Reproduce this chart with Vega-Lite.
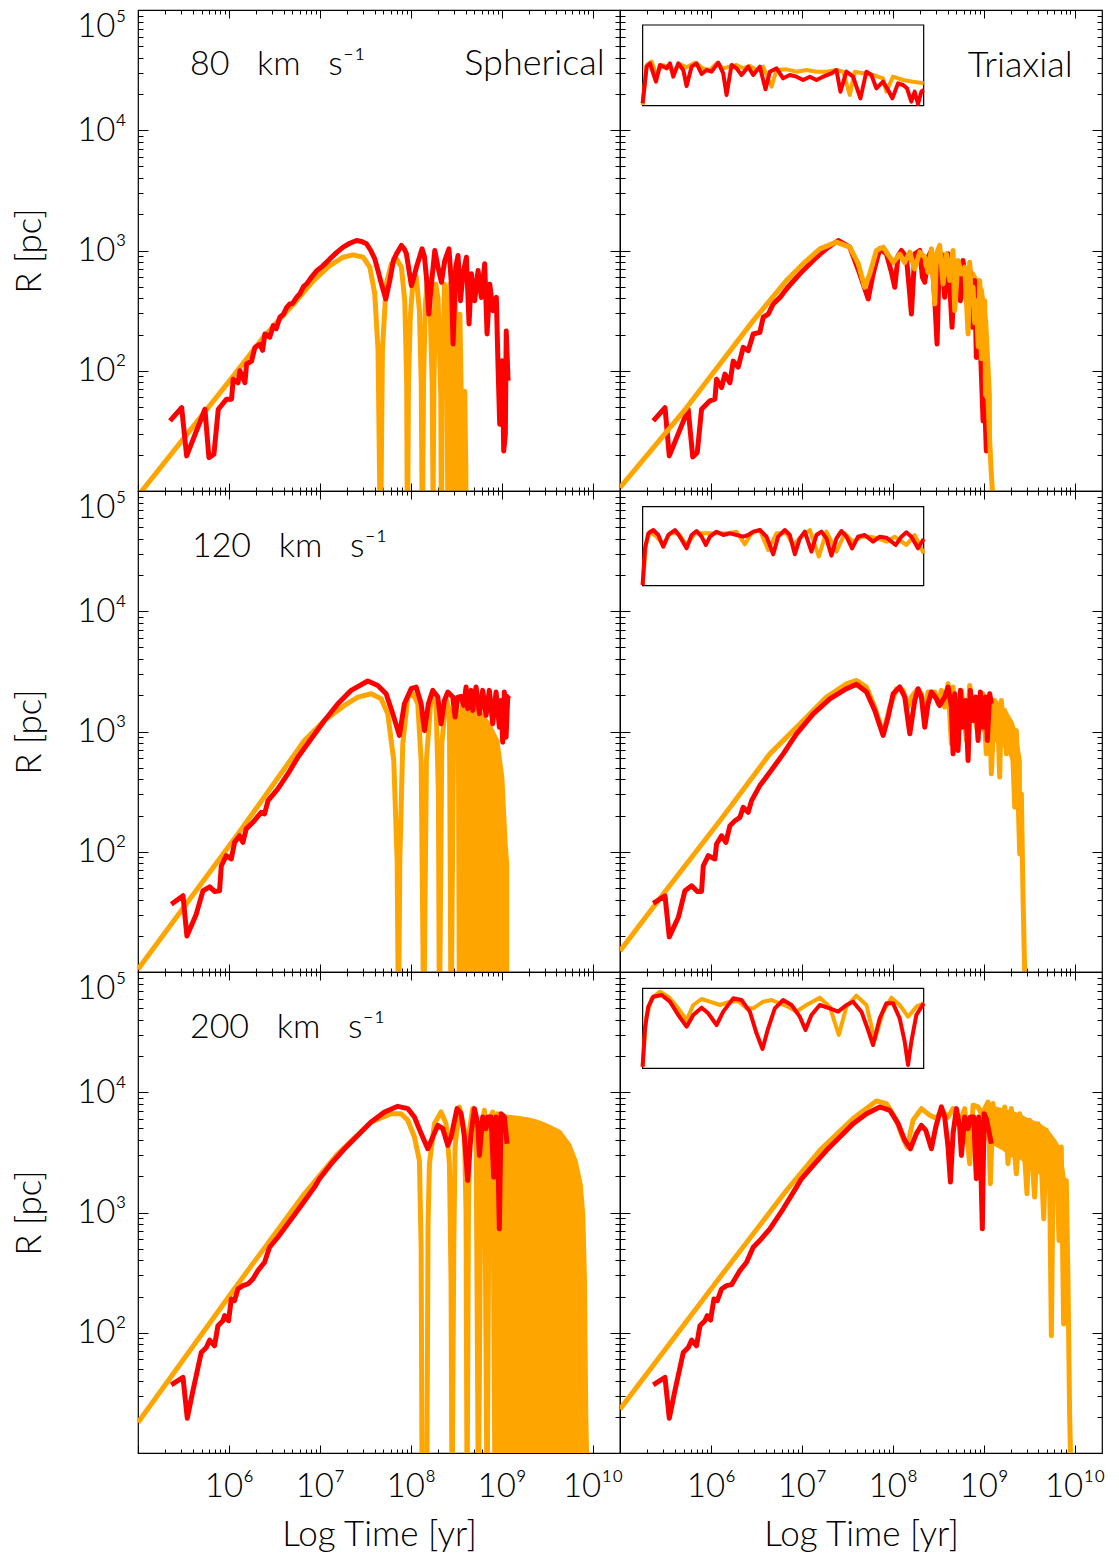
{
"$schema": "https://vega.github.io/schema/vega-lite/v6.json",
"padding": {"left": 11, "top": 8, "right": 0, "bottom": 0},
"background": "white",
"config": {
  "view": {"stroke": "black", "strokeWidth": 1.2},
  "axis": {"domain": false, "grid": false, "tickColor": "#000", "tickWidth": 1, "labelFont": "Lato", "labelFontSize": 33, "labelFontWeight": 300, "labelColor": "#000", "titleFont": "Lato", "titleFontSize": 35, "titleFontWeight": 300, "titleColor": "#000"},
  "text": {"font": "Lato", "fontSize": 34, "fontWeight": 300, "color": "#000"}
},
"datasets": {
  "A_o": [{"t":5.0,"r":0.96},{"t":6.01,"r":1.92},{"t":6.38,"r":2.28},{"t":6.74,"r":2.58},{"t":6.93,"r":2.75},{"t":7.11,"r":2.875},{"t":7.256,"r":2.944},{"t":7.366,"r":2.964},{"t":7.476,"r":2.944},{"t":7.55,"r":2.86},{"t":7.604,"r":2.64},{"t":7.64,"r":2.17},{"t":7.667,"r":0.5},{"t":7.688,"r":2.17},{"t":7.73,"r":2.72},{"t":7.787,"r":2.89},{"t":7.843,"r":2.93},{"t":7.897,"r":2.86},{"t":7.934,"r":2.58},{"t":7.955,"r":1.9},{"t":7.963,"r":0.5},{"t":7.975,"r":1.9},{"t":7.995,"r":2.45},{"t":8.025,"r":2.75},{"t":8.06,"r":2.78},{"t":8.095,"r":2.5},{"t":8.115,"r":1.9},{"t":8.128,"r":0.5},{"t":8.14,"r":1.9},{"t":8.16,"r":2.55},{"t":8.185,"r":2.76},{"t":8.21,"r":2.6},{"t":8.235,"r":1.9},{"t":8.245,"r":0.9},{"t":8.255,"r":1.9},{"t":8.275,"r":2.72},{"t":8.3,"r":2.6},{"t":8.33,"r":1.8},{"t":8.337,"r":0.5},{"t":8.345,"r":1.8},{"t":8.37,"r":2.72},{"t":8.395,"r":2.5},{"t":8.41,"r":0.5},{"t":8.418,"r":2.0},{"t":8.43,"r":2.72},{"t":8.447,"r":2.3},{"t":8.46,"r":0.5},{"t":8.47,"r":2.2},{"t":8.484,"r":2.69},{"t":8.5,"r":2.2},{"t":8.51,"r":0.5},{"t":8.52,"r":2.2},{"t":8.54,"r":2.47},{"t":8.555,"r":1.8},{"t":8.565,"r":0.5},{"t":8.575,"r":1.6},{"t":8.593,"r":1.83},{"t":8.605,"r":1.2},{"t":8.61,"r":0.5}],
  "A_r": [{"t":5.352,"r":1.583},{"t":5.48,"r":1.694},{"t":5.535,"r":1.292},{"t":5.736,"r":1.68},{"t":5.78,"r":1.278},{"t":5.835,"r":1.306},{"t":5.883,"r":1.68},{"t":5.974,"r":1.764},{"t":6.029,"r":1.764},{"t":6.047,"r":1.93},{"t":6.1,"r":1.9},{"t":6.12,"r":2.0},{"t":6.176,"r":1.9},{"t":6.194,"r":2.056},{"t":6.249,"r":2.08},{"t":6.286,"r":2.194},{"t":6.34,"r":2.22},{"t":6.37,"r":2.17},{"t":6.396,"r":2.306},{"t":6.45,"r":2.28},{"t":6.487,"r":2.375},{"t":6.52,"r":2.35},{"t":6.56,"r":2.445},{"t":6.6,"r":2.47},{"t":6.63,"r":2.52},{"t":6.67,"r":2.556},{"t":6.7,"r":2.56},{"t":6.744,"r":2.61},{"t":6.78,"r":2.64},{"t":6.82,"r":2.7},{"t":6.853,"r":2.72},{"t":6.9,"r":2.77},{"t":6.963,"r":2.83},{"t":7.03,"r":2.87},{"t":7.11,"r":2.93},{"t":7.18,"r":2.98},{"t":7.256,"r":3.028},{"t":7.33,"r":3.06},{"t":7.403,"r":3.083},{"t":7.46,"r":3.075},{"t":7.513,"r":3.056},{"t":7.56,"r":3.0},{"t":7.604,"r":2.93},{"t":7.64,"r":2.83},{"t":7.678,"r":2.72},{"t":7.725,"r":2.597},{"t":7.769,"r":2.75},{"t":7.81,"r":2.92},{"t":7.843,"r":2.972},{"t":7.897,"r":3.042},{"t":7.93,"r":3.01},{"t":7.952,"r":2.972},{"t":8.007,"r":2.708},{"t":8.035,"r":2.78},{"t":8.062,"r":2.86},{"t":8.124,"r":3.014},{"t":8.15,"r":2.95},{"t":8.172,"r":2.78},{"t":8.198,"r":2.472},{"t":8.227,"r":2.72},{"t":8.264,"r":3.0},{"t":8.3,"r":2.86},{"t":8.337,"r":2.736},{"t":8.374,"r":2.917},{"t":8.42,"r":3.014},{"t":8.447,"r":2.72},{"t":8.465,"r":2.222},{"t":8.494,"r":2.86},{"t":8.52,"r":2.958},{"t":8.546,"r":2.583},{"t":8.575,"r":2.806},{"t":8.612,"r":2.944},{"t":8.641,"r":2.389},{"t":8.667,"r":2.806},{"t":8.703,"r":2.583},{"t":8.74,"r":2.833},{"t":8.776,"r":2.61},{"t":8.813,"r":2.89},{"t":8.839,"r":2.306},{"t":8.868,"r":2.72},{"t":8.905,"r":2.5},{"t":8.941,"r":2.61},{"t":8.96,"r":2.03},{"t":8.978,"r":1.556},{"t":9.007,"r":2.083},{"t":9.022,"r":1.333},{"t":9.04,"r":1.47},{"t":9.05,"r":2.33},{"t":9.07,"r":1.917}],
  "B_o": [{"t":5.0,"r":1.028},{"t":5.733,"r":1.694},{"t":6.465,"r":2.417},{"t":6.83,"r":2.75},{"t":7.015,"r":2.89},{"t":7.198,"r":3.014},{"t":7.38,"r":3.07},{"t":7.527,"r":3.028},{"t":7.62,"r":2.89},{"t":7.692,"r":2.694},{"t":7.747,"r":2.806},{"t":7.82,"r":3.0},{"t":7.894,"r":3.028},{"t":7.967,"r":2.944},{"t":8.004,"r":2.9},{"t":8.077,"r":2.97},{"t":8.13,"r":2.9},{"t":8.187,"r":2.986},{"t":8.24,"r":2.847},{"t":8.297,"r":2.986},{"t":8.352,"r":2.944},{"t":8.388,"r":2.82},{"t":8.425,"r":3.014},{"t":8.462,"r":2.556},{"t":8.48,"r":2.972},{"t":8.516,"r":3.042},{"t":8.553,"r":2.722},{"t":8.59,"r":2.972},{"t":8.626,"r":2.75},{"t":8.663,"r":3.0},{"t":8.681,"r":2.5},{"t":8.718,"r":2.917},{"t":8.755,"r":2.806},{"t":8.791,"r":2.861},{"t":8.828,"r":2.306},{"t":8.846,"r":2.903},{"t":8.865,"r":2.55},{"t":8.883,"r":2.694},{"t":8.9,"r":2.4},{"t":8.919,"r":2.583},{"t":8.94,"r":2.2},{"t":8.956,"r":2.75},{"t":8.975,"r":2.1},{"t":8.993,"r":2.306},{"t":9.011,"r":2.583},{"t":9.02,"r":1.8},{"t":9.029,"r":2.083},{"t":9.048,"r":1.75},{"t":9.066,"r":1.417},{"t":9.084,"r":1.139},{"t":9.103,"r":0.917}],
  "B_b": [{"t":8.45,"r":2.98,"r2":2.82},{"t":8.6,"r":2.98,"r2":2.72},{"t":8.75,"r":2.9,"r2":2.62},{"t":8.9,"r":2.82,"r2":2.5},{"t":9.0,"r":2.68,"r2":2.2},{"t":9.05,"r":2.4,"r2":1.8},{"t":9.09,"r":1.8,"r2":1.2}],
  "B_r": [{"t":5.366,"r":1.583},{"t":5.495,"r":1.694},{"t":5.542,"r":1.292},{"t":5.75,"r":1.68},{"t":5.8,"r":1.283},{"t":5.85,"r":1.32},{"t":5.897,"r":1.68},{"t":5.989,"r":1.75},{"t":6.044,"r":1.764},{"t":6.062,"r":1.93},{"t":6.117,"r":1.86},{"t":6.154,"r":1.972},{"t":6.209,"r":1.9},{"t":6.245,"r":2.08},{"t":6.3,"r":2.03},{"t":6.355,"r":2.194},{"t":6.41,"r":2.167},{"t":6.465,"r":2.306},{"t":6.538,"r":2.319},{"t":6.575,"r":2.445},{"t":6.63,"r":2.47},{"t":6.685,"r":2.556},{"t":6.76,"r":2.61},{"t":6.83,"r":2.68},{"t":6.9,"r":2.74},{"t":6.978,"r":2.806},{"t":7.05,"r":2.86},{"t":7.125,"r":2.917},{"t":7.2,"r":2.97},{"t":7.27,"r":3.014},{"t":7.4,"r":3.083},{"t":7.527,"r":3.028},{"t":7.637,"r":2.806},{"t":7.73,"r":2.597},{"t":7.784,"r":2.806},{"t":7.857,"r":3.014},{"t":7.93,"r":2.972},{"t":7.985,"r":2.82},{"t":8.022,"r":2.694},{"t":8.059,"r":2.958},{"t":8.095,"r":3.0},{"t":8.15,"r":2.944},{"t":8.18,"r":2.694},{"t":8.205,"r":2.472},{"t":8.242,"r":2.972},{"t":8.297,"r":3.0},{"t":8.326,"r":2.778},{"t":8.352,"r":2.736},{"t":8.388,"r":2.944},{"t":8.425,"r":3.0},{"t":8.462,"r":2.583},{"t":8.487,"r":2.222},{"t":8.509,"r":2.861},{"t":8.535,"r":2.972},{"t":8.571,"r":2.611},{"t":8.608,"r":2.972},{"t":8.652,"r":2.361},{"t":8.681,"r":2.861},{"t":8.718,"r":2.778},{"t":8.744,"r":2.583},{"t":8.773,"r":2.917},{"t":8.81,"r":2.639},{"t":8.846,"r":2.861},{"t":8.875,"r":2.361},{"t":8.901,"r":2.75},{"t":8.919,"r":2.111},{"t":8.956,"r":2.361},{"t":8.993,"r":1.583},{"t":9.011,"r":1.75},{"t":9.029,"r":1.333},{"t":9.04,"r":1.472}],
  "C_o": [{"t":5.0,"r":1.023},{"t":6.099,"r":2.147},{"t":6.83,"r":2.925},{"t":7.05,"r":3.092},{"t":7.27,"r":3.217},{"t":7.418,"r":3.286},{"t":7.564,"r":3.314},{"t":7.674,"r":3.272},{"t":7.747,"r":3.147},{"t":7.813,"r":2.758},{"t":7.85,"r":1.925},{"t":7.865,"r":0.5},{"t":7.879,"r":1.925},{"t":7.912,"r":2.897},{"t":7.967,"r":3.286},{"t":8.022,"r":3.314},{"t":8.077,"r":3.231},{"t":8.114,"r":2.758},{"t":8.143,"r":0.5},{"t":8.172,"r":2.758},{"t":8.223,"r":3.286},{"t":8.278,"r":3.231},{"t":8.304,"r":2.481},{"t":8.315,"r":0.5},{"t":8.341,"r":2.897},{"t":8.388,"r":3.272},{"t":8.425,"r":3.175},{"t":8.443,"r":0.5},{"t":8.473,"r":3.175},{"t":8.498,"r":3.258},{"t":8.524,"r":2.897},{"t":8.535,"r":0.5},{"t":8.553,"r":3.036},{"t":8.571,"r":3.231},{"t":8.597,"r":0.5},{"t":8.619,"r":3.231},{"t":8.645,"r":0.5}],
  "C_f": [{"t":8.64,"r":3.23},{"t":8.7,"r":3.21},{"t":8.773,"r":3.175},{"t":8.883,"r":3.064},{"t":8.974,"r":2.925},{"t":9.029,"r":2.62},{"t":9.066,"r":2.06},{"t":9.082,"r":1.9}],
  "C_r": [{"t":5.366,"r":1.564},{"t":5.495,"r":1.634},{"t":5.538,"r":1.3},{"t":5.641,"r":1.481},{"t":5.714,"r":1.675},{"t":5.788,"r":1.708},{"t":5.842,"r":1.67},{"t":5.897,"r":1.675},{"t":5.916,"r":1.883},{"t":5.971,"r":1.967},{"t":6.026,"r":1.94},{"t":6.062,"r":2.078},{"t":6.117,"r":2.133},{"t":6.154,"r":2.078},{"t":6.19,"r":2.19},{"t":6.264,"r":2.245},{"t":6.355,"r":2.328},{"t":6.392,"r":2.314},{"t":6.43,"r":2.425},{"t":6.538,"r":2.522},{"t":6.648,"r":2.647},{"t":6.758,"r":2.786},{"t":6.905,"r":2.939},{"t":7.051,"r":3.092},{"t":7.198,"r":3.231},{"t":7.344,"r":3.342},{"t":7.527,"r":3.42},{"t":7.637,"r":3.383},{"t":7.729,"r":3.314},{"t":7.802,"r":3.147},{"t":7.875,"r":2.967},{"t":7.93,"r":3.231},{"t":8.004,"r":3.356},{"t":8.059,"r":3.37},{"t":8.114,"r":3.231},{"t":8.15,"r":3.008},{"t":8.194,"r":3.231},{"t":8.242,"r":3.342},{"t":8.297,"r":3.286},{"t":8.333,"r":3.064},{"t":8.37,"r":3.258},{"t":8.407,"r":3.328},{"t":8.462,"r":3.286},{"t":8.487,"r":3.12},{"t":8.516,"r":3.286},{"t":8.553,"r":3.292},{"t":8.582,"r":3.217},{"t":8.608,"r":3.37},{"t":8.626,"r":3.19},{"t":8.663,"r":3.342},{"t":8.681,"r":3.175},{"t":8.718,"r":3.37},{"t":8.755,"r":3.148},{"t":8.791,"r":3.342},{"t":8.828,"r":3.134},{"t":8.864,"r":3.342},{"t":8.901,"r":3.064},{"t":8.938,"r":3.328},{"t":8.974,"r":3.036},{"t":8.993,"r":3.258},{"t":9.011,"r":2.911},{"t":9.029,"r":3.328},{"t":9.048,"r":2.953},{"t":9.066,"r":3.286},{"t":9.084,"r":3.3}],
  "D_o": [{"t":5.0,"r":1.175},{"t":5.476,"r":1.648},{"t":6.099,"r":2.258},{"t":6.648,"r":2.814},{"t":7.015,"r":3.092},{"t":7.271,"r":3.286},{"t":7.49,"r":3.397},{"t":7.6,"r":3.425},{"t":7.71,"r":3.37},{"t":7.802,"r":3.203},{"t":7.894,"r":2.981},{"t":7.967,"r":3.203},{"t":8.04,"r":3.356},{"t":8.114,"r":3.342},{"t":8.168,"r":3.203},{"t":8.205,"r":3.286},{"t":8.26,"r":3.342},{"t":8.315,"r":3.314},{"t":8.352,"r":3.147},{"t":8.388,"r":3.328},{"t":8.462,"r":3.328},{"t":8.498,"r":3.231},{"t":8.535,"r":3.342},{"t":8.571,"r":3.203},{"t":8.608,"r":3.397},{"t":8.645,"r":2.897},{"t":8.663,"r":3.37},{"t":8.718,"r":2.897},{"t":8.755,"r":3.342},{"t":8.81,"r":2.925},{"t":8.846,"r":3.383},{"t":8.883,"r":3.175},{"t":8.938,"r":2.981},{"t":8.993,"r":3.314},{"t":9.029,"r":2.814},{"t":9.066,"r":3.231},{"t":9.084,"r":2.648},{"t":9.121,"r":3.258},{"t":9.158,"r":3.036},{"t":9.176,"r":2.62},{"t":9.194,"r":3.258},{"t":9.212,"r":3.036},{"t":9.231,"r":3.175},{"t":9.249,"r":2.814},{"t":9.267,"r":3.092},{"t":9.286,"r":2.925},{"t":9.304,"r":3.036},{"t":9.322,"r":2.758},{"t":9.341,"r":2.37},{"t":9.359,"r":3.008},{"t":9.377,"r":2.481},{"t":9.396,"r":1.981},{"t":9.414,"r":2.481},{"t":9.432,"r":1.648},{"t":9.451,"r":0.98}],
  "D_b": [{"t":8.95,"r":3.33,"r2":3.02},{"t":9.05,"r":3.3,"r2":2.95},{"t":9.15,"r":3.26,"r2":2.9},{"t":9.25,"r":3.18,"r2":2.85},{"t":9.33,"r":3.08,"r2":2.7},{"t":9.38,"r":2.95,"r2":2.4},{"t":9.42,"r":2.75,"r2":2.0}],
  "D_r": [{"t":5.366,"r":1.57},{"t":5.495,"r":1.634},{"t":5.542,"r":1.292},{"t":5.641,"r":1.453},{"t":5.714,"r":1.675},{"t":5.788,"r":1.717},{"t":5.85,"r":1.67},{"t":5.897,"r":1.67},{"t":5.916,"r":1.883},{"t":5.971,"r":1.967},{"t":6.044,"r":1.94},{"t":6.062,"r":2.064},{"t":6.117,"r":2.133},{"t":6.165,"r":2.078},{"t":6.209,"r":2.217},{"t":6.264,"r":2.258},{"t":6.319,"r":2.286},{"t":6.355,"r":2.369},{"t":6.41,"r":2.328},{"t":6.447,"r":2.425},{"t":6.538,"r":2.55},{"t":6.648,"r":2.661},{"t":6.795,"r":2.814},{"t":6.941,"r":2.981},{"t":7.125,"r":3.147},{"t":7.308,"r":3.272},{"t":7.49,"r":3.356},{"t":7.6,"r":3.392},{"t":7.711,"r":3.328},{"t":7.802,"r":3.175},{"t":7.894,"r":2.967},{"t":7.949,"r":3.12},{"t":8.004,"r":3.314},{"t":8.077,"r":3.37},{"t":8.132,"r":3.286},{"t":8.187,"r":2.981},{"t":8.242,"r":3.258},{"t":8.278,"r":3.356},{"t":8.315,"r":3.286},{"t":8.352,"r":3.036},{"t":8.388,"r":3.231},{"t":8.425,"r":3.328},{"t":8.48,"r":3.272},{"t":8.516,"r":3.217},{"t":8.571,"r":3.286},{"t":8.608,"r":3.37},{"t":8.645,"r":3.203},{"t":8.663,"r":2.814},{"t":8.681,"r":3.314},{"t":8.718,"r":2.842},{"t":8.744,"r":3.342},{"t":8.773,"r":3.036},{"t":8.802,"r":3.258},{"t":8.828,"r":2.758},{"t":8.853,"r":3.342},{"t":8.883,"r":3.092},{"t":8.912,"r":3.286},{"t":8.938,"r":2.925},{"t":8.963,"r":3.328},{"t":8.993,"r":3.036},{"t":9.022,"r":3.286},{"t":9.04,"r":2.925},{"t":9.066,"r":3.314},{"t":9.084,"r":3.231}],
  "E_o": [{"t":5.0,"r":1.253},{"t":6.099,"r":2.406},{"t":6.83,"r":3.156},{"t":7.198,"r":3.489},{"t":7.564,"r":3.753},{"t":7.784,"r":3.822},{"t":7.894,"r":3.822},{"t":7.967,"r":3.767},{"t":8.04,"r":3.628},{"t":8.095,"r":3.433},{"t":8.114,"r":2.711},{"t":8.125,"r":0.5},{"t":8.175,"r":0.5},{"t":8.19,"r":2.9},{"t":8.205,"r":3.406},{"t":8.26,"r":3.739},{"t":8.333,"r":3.836},{"t":8.388,"r":3.739},{"t":8.425,"r":3.406},{"t":8.443,"r":2.433},{"t":8.454,"r":0.5},{"t":8.473,"r":2.711},{"t":8.487,"r":3.544},{"t":8.535,"r":3.878},{"t":8.59,"r":3.683},{"t":8.608,"r":2.989},{"t":8.619,"r":0.5},{"t":8.634,"r":2.989},{"t":8.645,"r":3.683},{"t":8.681,"r":3.864},{"t":8.718,"r":3.683},{"t":8.744,"r":0.5},{"t":8.773,"r":3.683},{"t":8.81,"r":3.85},{"t":8.839,"r":0.5},{"t":8.864,"r":3.767},{"t":8.901,"r":3.836},{"t":8.927,"r":0.5},{"t":8.956,"r":3.822},{"t":8.985,"r":0.5},{"t":9.011,"r":3.822}],
  "E_f": [{"t":9.0,"r":3.822},{"t":9.1,"r":3.81},{"t":9.212,"r":3.8},{"t":9.3,"r":3.79},{"t":9.396,"r":3.772},{"t":9.47,"r":3.75},{"t":9.542,"r":3.725},{"t":9.652,"r":3.683},{"t":9.762,"r":3.572},{"t":9.835,"r":3.433},{"t":9.89,"r":3.239},{"t":9.919,"r":2.989},{"t":9.938,"r":2.433},{"t":9.952,"r":1.322},{"t":9.96,"r":1.0}],
  "E_r": [{"t":5.366,"r":1.567},{"t":5.495,"r":1.628},{"t":5.542,"r":1.289},{"t":5.604,"r":1.517},{"t":5.696,"r":1.836},{"t":5.751,"r":1.878},{"t":5.788,"r":1.939},{"t":5.842,"r":1.892},{"t":5.879,"r":2.058},{"t":5.934,"r":2.1},{"t":5.952,"r":2.142},{"t":5.996,"r":2.1},{"t":6.026,"r":2.28},{"t":6.062,"r":2.267},{"t":6.099,"r":2.364},{"t":6.154,"r":2.392},{"t":6.209,"r":2.406},{"t":6.264,"r":2.447},{"t":6.319,"r":2.517},{"t":6.392,"r":2.586},{"t":6.447,"r":2.711},{"t":6.538,"r":2.794},{"t":6.648,"r":2.906},{"t":6.795,"r":3.058},{"t":6.941,"r":3.211},{"t":6.996,"r":3.28},{"t":7.125,"r":3.406},{"t":7.271,"r":3.53},{"t":7.418,"r":3.642},{"t":7.564,"r":3.753},{"t":7.711,"r":3.836},{"t":7.857,"r":3.883},{"t":7.967,"r":3.864},{"t":8.04,"r":3.794},{"t":8.114,"r":3.656},{"t":8.187,"r":3.53},{"t":8.242,"r":3.628},{"t":8.297,"r":3.725},{"t":8.352,"r":3.697},{"t":8.407,"r":3.558},{"t":8.443,"r":3.628},{"t":8.509,"r":3.864},{"t":8.553,"r":3.822},{"t":8.59,"r":3.628},{"t":8.626,"r":3.267},{"t":8.663,"r":3.656},{"t":8.7,"r":3.864},{"t":8.736,"r":3.739},{"t":8.755,"r":3.475},{"t":8.791,"r":3.794},{"t":8.828,"r":3.697},{"t":8.846,"r":3.794},{"t":8.883,"r":3.794},{"t":8.912,"r":3.294},{"t":8.938,"r":3.794},{"t":8.956,"r":3.544},{"t":8.974,"r":2.864},{"t":8.993,"r":3.822},{"t":9.029,"r":3.794},{"t":9.059,"r":3.572}],
  "F_o": [{"t":5.0,"r":1.364},{"t":6.099,"r":2.461},{"t":6.83,"r":3.183},{"t":7.198,"r":3.517},{"t":7.564,"r":3.781},{"t":7.82,"r":3.928},{"t":7.93,"r":3.906},{"t":8.04,"r":3.767},{"t":8.114,"r":3.614},{"t":8.158,"r":3.544},{"t":8.223,"r":3.767},{"t":8.315,"r":3.864},{"t":8.407,"r":3.808},{"t":8.48,"r":3.781},{"t":8.535,"r":3.85},{"t":8.608,"r":3.794},{"t":8.663,"r":3.864},{"t":8.736,"r":3.739},{"t":8.791,"r":3.864},{"t":8.828,"r":3.544},{"t":8.846,"r":3.406},{"t":8.883,"r":3.892},{"t":8.938,"r":3.878},{"t":8.974,"r":3.822},{"t":9.011,"r":3.864},{"t":9.048,"r":3.919},{"t":9.073,"r":3.239},{"t":9.103,"r":3.906},{"t":9.13,"r":3.6},{"t":9.158,"r":3.85},{"t":9.194,"r":3.6},{"t":9.231,"r":3.878},{"t":9.267,"r":3.406},{"t":9.304,"r":3.864},{"t":9.33,"r":3.6},{"t":9.359,"r":3.322},{"t":9.396,"r":3.822},{"t":9.432,"r":3.683},{"t":9.476,"r":3.156},{"t":9.505,"r":3.767},{"t":9.56,"r":3.128},{"t":9.597,"r":3.739},{"t":9.634,"r":3.406},{"t":9.66,"r":2.947},{"t":9.689,"r":3.683},{"t":9.725,"r":3.267},{"t":9.744,"r":1.975},{"t":9.762,"r":3.267},{"t":9.799,"r":3.544},{"t":9.828,"r":2.767},{"t":9.853,"r":3.544},{"t":9.879,"r":2.072},{"t":9.908,"r":3.267},{"t":9.927,"r":2.433},{"t":9.945,"r":1.322},{"t":9.963,"r":0.7}],
  "F_b": [{"t":9.0,"r":3.86,"r2":3.62},{"t":9.1,"r":3.89,"r2":3.56},{"t":9.2,"r":3.87,"r2":3.52},{"t":9.3,"r":3.85,"r2":3.46},{"t":9.4,"r":3.82,"r2":3.44},{"t":9.5,"r":3.78,"r2":3.38},{"t":9.6,"r":3.75,"r2":3.32},{"t":9.7,"r":3.7,"r2":3.28},{"t":9.8,"r":3.6,"r2":3.2},{"t":9.86,"r":3.52,"r2":3.0},{"t":9.9,"r":3.3,"r2":2.7},{"t":9.93,"r":3.0,"r2":2.4}],
  "F_r": [{"t":5.366,"r":1.567},{"t":5.495,"r":1.628},{"t":5.542,"r":1.289},{"t":5.604,"r":1.517},{"t":5.696,"r":1.836},{"t":5.751,"r":1.878},{"t":5.788,"r":1.939},{"t":5.842,"r":1.892},{"t":5.879,"r":2.058},{"t":5.934,"r":2.1},{"t":5.96,"r":2.142},{"t":5.996,"r":2.106},{"t":6.033,"r":2.28},{"t":6.07,"r":2.267},{"t":6.117,"r":2.364},{"t":6.172,"r":2.392},{"t":6.227,"r":2.4},{"t":6.264,"r":2.447},{"t":6.319,"r":2.517},{"t":6.392,"r":2.586},{"t":6.465,"r":2.711},{"t":6.538,"r":2.767},{"t":6.648,"r":2.864},{"t":6.795,"r":3.031},{"t":6.941,"r":3.211},{"t":6.996,"r":3.28},{"t":7.125,"r":3.392},{"t":7.271,"r":3.517},{"t":7.418,"r":3.628},{"t":7.564,"r":3.739},{"t":7.711,"r":3.822},{"t":7.857,"r":3.878},{"t":7.967,"r":3.85},{"t":8.059,"r":3.739},{"t":8.132,"r":3.6},{"t":8.194,"r":3.53},{"t":8.26,"r":3.656},{"t":8.315,"r":3.725},{"t":8.363,"r":3.683},{"t":8.425,"r":3.53},{"t":8.473,"r":3.711},{"t":8.535,"r":3.878},{"t":8.571,"r":3.794},{"t":8.608,"r":3.544},{"t":8.634,"r":3.253},{"t":8.663,"r":3.656},{"t":8.7,"r":3.864},{"t":8.736,"r":3.711},{"t":8.755,"r":3.475},{"t":8.791,"r":3.794},{"t":8.828,"r":3.697},{"t":8.853,"r":3.794},{"t":8.89,"r":3.794},{"t":8.919,"r":3.281},{"t":8.945,"r":3.794},{"t":8.963,"r":3.544},{"t":8.985,"r":2.864},{"t":9.004,"r":3.822},{"t":9.029,"r":3.781},{"t":9.084,"r":3.572}],
  "B_io": [{"t":0,"r":2},{"t":12,"r":122},{"t":27,"r":132},{"t":42,"r":92},{"t":57,"r":122},{"t":77,"r":117},{"t":92,"r":102},{"t":112,"r":125},{"t":132,"r":115},{"t":157,"r":129},{"t":182,"r":112},{"t":202,"r":107},{"t":222,"r":127},{"t":242,"r":112},{"t":262,"r":117},{"t":282,"r":122},{"t":302,"r":112},{"t":322,"r":119},{"t":342,"r":107},{"t":362,"r":117},{"t":387,"r":57},{"t":402,"r":107},{"t":432,"r":109},{"t":462,"r":102},{"t":492,"r":107},{"t":522,"r":102},{"t":552,"r":102},{"t":582,"r":107},{"t":602,"r":102},{"t":622,"r":32},{"t":637,"r":102},{"t":662,"r":97},{"t":692,"r":92},{"t":722,"r":82},{"t":732,"r":42},{"t":752,"r":87},{"t":782,"r":77},{"t":812,"r":72},{"t":844,"r":67}],
  "B_ir": [{"t":0,"r":7},{"t":12,"r":117},{"t":22,"r":127},{"t":40,"r":72},{"t":52,"r":122},{"t":72,"r":112},{"t":82,"r":127},{"t":92,"r":87},{"t":107,"r":127},{"t":122,"r":107},{"t":132,"r":59},{"t":147,"r":117},{"t":162,"r":127},{"t":177,"r":95},{"t":192,"r":107},{"t":207,"r":102},{"t":227,"r":129},{"t":242,"r":97},{"t":252,"r":32},{"t":267,"r":122},{"t":282,"r":112},{"t":297,"r":92},{"t":317,"r":117},{"t":332,"r":92},{"t":352,"r":117},{"t":369,"r":49},{"t":382,"r":102},{"t":402,"r":112},{"t":422,"r":82},{"t":442,"r":92},{"t":462,"r":87},{"t":482,"r":77},{"t":502,"r":87},{"t":522,"r":77},{"t":542,"r":87},{"t":567,"r":97},{"t":582,"r":107},{"t":594,"r":42},{"t":612,"r":102},{"t":632,"r":87},{"t":654,"r":22},{"t":672,"r":102},{"t":687,"r":92},{"t":702,"r":52},{"t":722,"r":72},{"t":737,"r":47},{"t":750,"r":22},{"t":767,"r":67},{"t":782,"r":62},{"t":794,"r":52},{"t":807,"r":12},{"t":817,"r":42},{"t":827,"r":5},{"t":837,"r":42},{"t":844,"r":47}],
  "D_io": [{"t":0,"r":2},{"t":10,"r":122},{"t":22,"r":162},{"t":42,"r":147},{"t":62,"r":122},{"t":82,"r":157},{"t":107,"r":157},{"t":132,"r":122},{"t":157,"r":157},{"t":182,"r":157},{"t":207,"r":157},{"t":232,"r":157},{"t":257,"r":157},{"t":282,"r":162},{"t":307,"r":124},{"t":327,"r":157},{"t":352,"r":167},{"t":377,"r":107},{"t":402,"r":157},{"t":432,"r":157},{"t":452,"r":122},{"t":477,"r":147},{"t":502,"r":167},{"t":529,"r":87},{"t":552,"r":162},{"t":582,"r":102},{"t":607,"r":157},{"t":632,"r":132},{"t":657,"r":147},{"t":682,"r":147},{"t":707,"r":142},{"t":732,"r":132},{"t":757,"r":147},{"t":792,"r":122},{"t":817,"r":152},{"t":844,"r":97}],
  "D_ir": [{"t":0,"r":2},{"t":7,"r":112},{"t":17,"r":157},{"t":32,"r":167},{"t":47,"r":152},{"t":62,"r":117},{"t":77,"r":152},{"t":97,"r":167},{"t":112,"r":147},{"t":132,"r":112},{"t":147,"r":152},{"t":162,"r":164},{"t":177,"r":147},{"t":190,"r":122},{"t":202,"r":147},{"t":222,"r":162},{"t":242,"r":152},{"t":262,"r":157},{"t":282,"r":152},{"t":302,"r":147},{"t":317,"r":152},{"t":332,"r":162},{"t":352,"r":167},{"t":372,"r":147},{"t":392,"r":94},{"t":407,"r":147},{"t":427,"r":167},{"t":442,"r":152},{"t":457,"r":94},{"t":472,"r":142},{"t":487,"r":162},{"t":507,"r":102},{"t":522,"r":152},{"t":537,"r":162},{"t":552,"r":142},{"t":567,"r":90},{"t":582,"r":142},{"t":597,"r":164},{"t":612,"r":147},{"t":629,"r":112},{"t":647,"r":147},{"t":667,"r":152},{"t":692,"r":132},{"t":712,"r":147},{"t":732,"r":144},{"t":760,"r":122},{"t":777,"r":147},{"t":792,"r":160},{"t":807,"r":147},{"t":827,"r":112},{"t":844,"r":140}],
  "F_io": [{"t":0,"r":5},{"t":10,"r":150},{"t":27,"r":210},{"t":52,"r":230},{"t":77,"r":215},{"t":107,"r":180},{"t":132,"r":145},{"t":152,"r":190},{"t":177,"r":208},{"t":202,"r":200},{"t":232,"r":190},{"t":262,"r":200},{"t":287,"r":202},{"t":312,"r":180},{"t":332,"r":180},{"t":362,"r":200},{"t":387,"r":205},{"t":412,"r":195},{"t":437,"r":185},{"t":462,"r":170},{"t":492,"r":190},{"t":532,"r":212},{"t":562,"r":185},{"t":589,"r":100},{"t":612,"r":185},{"t":642,"r":218},{"t":672,"r":190},{"t":697,"r":85},{"t":722,"r":170},{"t":747,"r":212},{"t":772,"r":190},{"t":797,"r":155},{"t":822,"r":185},{"t":844,"r":195}],
  "F_ir": [{"t":0,"r":5},{"t":7,"r":120},{"t":17,"r":185},{"t":32,"r":215},{"t":57,"r":220},{"t":82,"r":200},{"t":107,"r":160},{"t":132,"r":125},{"t":152,"r":160},{"t":177,"r":182},{"t":197,"r":165},{"t":222,"r":130},{"t":242,"r":170},{"t":272,"r":210},{"t":297,"r":205},{"t":322,"r":170},{"t":342,"r":105},{"t":360,"r":58},{"t":377,"r":120},{"t":397,"r":180},{"t":422,"r":205},{"t":447,"r":190},{"t":472,"r":155},{"t":489,"r":115},{"t":507,"r":160},{"t":532,"r":190},{"t":562,"r":180},{"t":587,"r":170},{"t":612,"r":190},{"t":632,"r":200},{"t":657,"r":170},{"t":677,"r":115},{"t":692,"r":70},{"t":712,"r":150},{"t":732,"r":195},{"t":752,"r":195},{"t":772,"r":150},{"t":787,"r":80},{"t":797,"r":10},{"t":807,"r":80},{"t":822,"r":160},{"t":844,"r":195}]
},
"concat": [
 {"width": 482, "height": 481,
  "layer": [
   {"data": {"name": "A_o"}, "mark": {"type": "line", "color": "#FFA500", "strokeWidth": 5, "clip": true, "strokeJoin": "round"},
    "encoding": {"x": {"field": "t", "type": "quantitative", "scale": {"domain": [5, 10.301], "nice": false, "zero": false}, "axis": {"orient": "bottom", "values": [5,5.301,5.477,5.602,5.699,5.778,5.845,5.903,5.954,6,6.301,6.477,6.602,6.699,6.778,6.845,6.903,6.954,7,7.301,7.477,7.602,7.699,7.778,7.845,7.903,7.954,8,8.301,8.477,8.602,8.699,8.778,8.845,8.903,8.954,9,9.301,9.477,9.602,9.699,9.778,9.845,9.903,9.954,10], "labels": false, "title": null, "tickSize": {"condition": {"test": "abs(datum.value - round(datum.value)) < 0.001", "value": -8}, "value": -4}}},
                 "y": {"field": "r", "type": "quantitative", "scale": {"domain": [1, 5], "nice": false, "zero": false}, "axis": {"orient": "left", "values": [1,1.301,1.477,1.602,1.699,1.778,1.845,1.903,1.954,2,2.301,2.477,2.602,2.699,2.778,2.845,2.903,2.954,3,3.301,3.477,3.602,3.699,3.778,3.845,3.903,3.954,4,4.301,4.477,4.602,4.699,4.778,4.845,4.903,4.954,5], "labelExpr": "datum.value == 2 ? '10²' : datum.value == 3 ? '10³' : datum.value == 4 ? '10⁴' : datum.value == 5 ? '10⁵' : ''", "labelFlush": true, "labelPadding": 22, "title": "R [pc]", "titlePadding": 13, "minExtent": 78, "maxExtent": 78, "tickSize": {"condition": {"test": "abs(datum.value - round(datum.value)) < 0.001", "value": -10}, "value": -5}}}}},
   {"data": {"name": "A_r"}, "mark": {"type": "line", "color": "#FF0000", "strokeWidth": 5, "clip": true, "strokeJoin": "round"},
    "encoding": {"x": {"field": "t", "type": "quantitative", "scale": {"domain": [5, 10.301], "nice": false, "zero": false}, "axis": {"orient": "top", "values": [5,5.301,5.477,5.602,5.699,5.778,5.845,5.903,5.954,6,6.301,6.477,6.602,6.699,6.778,6.845,6.903,6.954,7,7.301,7.477,7.602,7.699,7.778,7.845,7.903,7.954,8,8.301,8.477,8.602,8.699,8.778,8.845,8.903,8.954,9,9.301,9.477,9.602,9.699,9.778,9.845,9.903,9.954,10], "labels": false, "title": null, "tickSize": {"condition": {"test": "abs(datum.value - round(datum.value)) < 0.001", "value": -8}, "value": -4}}},
                 "y": {"field": "r", "type": "quantitative", "scale": {"domain": [1, 5], "nice": false, "zero": false}, "axis": {"orient": "right", "values": [1,1.301,1.477,1.602,1.699,1.778,1.845,1.903,1.954,2,2.301,2.477,2.602,2.699,2.778,2.845,2.903,2.954,3,3.301,3.477,3.602,3.699,3.778,3.845,3.903,3.954,4,4.301,4.477,4.602,4.699,4.778,4.845,4.903,4.954,5], "labels": false, "title": null, "tickSize": {"condition": {"test": "abs(datum.value - round(datum.value)) < 0.001", "value": -10}, "value": -5}}}}},
   {"data": {"values": [{}]}, "mark": {"type": "text", "text": "80\u00a0\u00a0\u00a0km\u00a0\u00a0\u00a0s⁻¹", "align": "left", "baseline": "alphabetic"},
    "encoding": {"x": {"datum": 5.571, "type": "quantitative", "axis": null}, "y": {"datum": 4.458, "type": "quantitative", "axis": null}}},
   {"data": {"values": [{}]}, "mark": {"type": "text", "text": "Spherical", "align": "right", "baseline": "alphabetic", "fontSize": 36},
    "encoding": {"x": {"datum": 10.132, "type": "quantitative", "axis": null}, "y": {"datum": 4.458, "type": "quantitative", "axis": null}}}
  ],
  "resolve": {"axis": {"x": "independent", "y": "independent"}}
 },
 {"width": 482, "height": 481,
  "layer": [
   {"layer": [
     {"data": {"name": "B_b"}, "mark": {"type": "area", "color": "#FFA500", "clip": true},
      "encoding": {"x": {"field": "t", "type": "quantitative", "scale": {"domain": [5, 10.301], "nice": false, "zero": false}, "axis": null}, "y": {"field": "r", "type": "quantitative", "scale": {"domain": [1, 5], "nice": false, "zero": false}, "axis": null}, "y2": {"field": "r2"}}},
     {"data": {"name": "B_r"}, "mark": {"type": "line", "color": "#FF0000", "strokeWidth": 5, "clip": true, "strokeJoin": "round"},
      "encoding": {"x": {"field": "t", "type": "quantitative", "axis": {"orient": "top", "values": [5,5.301,5.477,5.602,5.699,5.778,5.845,5.903,5.954,6,6.301,6.477,6.602,6.699,6.778,6.845,6.903,6.954,7,7.301,7.477,7.602,7.699,7.778,7.845,7.903,7.954,8,8.301,8.477,8.602,8.699,8.778,8.845,8.903,8.954,9,9.301,9.477,9.602,9.699,9.778,9.845,9.903,9.954,10], "labels": false, "title": null, "tickSize": {"condition": {"test": "abs(datum.value - round(datum.value)) < 0.001", "value": -8}, "value": -4}}},
                   "y": {"field": "r", "type": "quantitative", "axis": {"orient": "right", "values": [1,1.301,1.477,1.602,1.699,1.778,1.845,1.903,1.954,2,2.301,2.477,2.602,2.699,2.778,2.845,2.903,2.954,3,3.301,3.477,3.602,3.699,3.778,3.845,3.903,3.954,4,4.301,4.477,4.602,4.699,4.778,4.845,4.903,4.954,5], "labels": false, "title": null, "tickSize": {"condition": {"test": "abs(datum.value - round(datum.value)) < 0.001", "value": -10}, "value": -5}}}}},
     {"data": {"name": "B_o"}, "mark": {"type": "line", "color": "#FFA500", "strokeWidth": 5, "clip": true, "strokeJoin": "round"},
      "encoding": {"x": {"field": "t", "type": "quantitative", "axis": {"orient": "bottom", "values": [5,5.301,5.477,5.602,5.699,5.778,5.845,5.903,5.954,6,6.301,6.477,6.602,6.699,6.778,6.845,6.903,6.954,7,7.301,7.477,7.602,7.699,7.778,7.845,7.903,7.954,8,8.301,8.477,8.602,8.699,8.778,8.845,8.903,8.954,9,9.301,9.477,9.602,9.699,9.778,9.845,9.903,9.954,10], "labels": false, "title": null, "tickSize": {"condition": {"test": "abs(datum.value - round(datum.value)) < 0.001", "value": -8}, "value": -4}}},
                   "y": {"field": "r", "type": "quantitative", "axis": {"orient": "left", "values": [1,1.301,1.477,1.602,1.699,1.778,1.845,1.903,1.954,2,2.301,2.477,2.602,2.699,2.778,2.845,2.903,2.954,3,3.301,3.477,3.602,3.699,3.778,3.845,3.903,3.954,4,4.301,4.477,4.602,4.699,4.778,4.845,4.903,4.954,5], "labels": false, "title": null, "tickSize": {"condition": {"test": "abs(datum.value - round(datum.value)) < 0.001", "value": -10}, "value": -5}}}}},
     {"data": {"values": [{}]}, "mark": {"type": "text", "text": "Triaxial", "align": "right", "baseline": "alphabetic", "fontSize": 36},
      "encoding": {"x": {"datum": 9.978, "type": "quantitative", "axis": null}, "y": {"datum": 4.44, "type": "quantitative", "axis": null}}}
    ],
    "resolve": {"axis": {"x": "independent", "y": "independent"}}},
   {"layer": [
     {"data": {"values": [{}]}, "mark": {"type": "rect", "filled": false, "color": "#000", "strokeWidth": 1.2},
      "encoding": {"x": {"datum": 0, "type": "quantitative", "axis": null}, "x2": {"datum": 844}, "y": {"datum": 0, "type": "quantitative", "axis": null}, "y2": {"datum": 242}}},
     {"data": {"name": "B_io"}, "mark": {"type": "line", "color": "#FFA500", "strokeWidth": 4, "strokeJoin": "round"},
      "encoding": {"x": {"field": "t", "type": "quantitative", "scale": {"domain": [-68, 1379.5], "nice": false, "zero": false}, "axis": null}, "y": {"field": "r", "type": "quantitative", "scale": {"domain": [-1156, 287], "nice": false, "zero": false}, "axis": null}}},
     {"data": {"name": "B_ir"}, "mark": {"type": "line", "color": "#FF0000", "strokeWidth": 4, "strokeJoin": "round"},
      "encoding": {"x": {"field": "t", "type": "quantitative", "axis": null}, "y": {"field": "r", "type": "quantitative", "axis": null}}}
    ]}
  ],
  "resolve": {"scale": {"x": "independent", "y": "independent"}}
 },
 {"width": 482, "height": 481,
  "layer": [
   {"data": {"name": "C_f"}, "mark": {"type": "area", "color": "#FFA500", "clip": true},
    "encoding": {"x": {"field": "t", "type": "quantitative", "scale": {"domain": [5, 10.301], "nice": false, "zero": false}, "axis": null}, "y": {"field": "r", "type": "quantitative", "scale": {"domain": [1, 5], "nice": false, "zero": false}, "axis": null}, "y2": {"datum": 1}}},
   {"data": {"name": "C_o"}, "mark": {"type": "line", "color": "#FFA500", "strokeWidth": 5, "clip": true, "strokeJoin": "round"},
    "encoding": {"x": {"field": "t", "type": "quantitative", "axis": {"orient": "bottom", "values": [5,5.301,5.477,5.602,5.699,5.778,5.845,5.903,5.954,6,6.301,6.477,6.602,6.699,6.778,6.845,6.903,6.954,7,7.301,7.477,7.602,7.699,7.778,7.845,7.903,7.954,8,8.301,8.477,8.602,8.699,8.778,8.845,8.903,8.954,9,9.301,9.477,9.602,9.699,9.778,9.845,9.903,9.954,10], "labels": false, "title": null, "tickSize": {"condition": {"test": "abs(datum.value - round(datum.value)) < 0.001", "value": -8}, "value": -4}}},
                 "y": {"field": "r", "type": "quantitative", "axis": {"orient": "left", "values": [1,1.301,1.477,1.602,1.699,1.778,1.845,1.903,1.954,2,2.301,2.477,2.602,2.699,2.778,2.845,2.903,2.954,3,3.301,3.477,3.602,3.699,3.778,3.845,3.903,3.954,4,4.301,4.477,4.602,4.699,4.778,4.845,4.903,4.954,5], "labelExpr": "datum.value == 2 ? '10²' : datum.value == 3 ? '10³' : datum.value == 4 ? '10⁴' : datum.value == 5 ? '10⁵' : ''", "labelFlush": true, "labelPadding": 22, "title": "R [pc]", "titlePadding": 13, "minExtent": 78, "maxExtent": 78, "tickSize": {"condition": {"test": "abs(datum.value - round(datum.value)) < 0.001", "value": -10}, "value": -5}}}}},
   {"data": {"name": "C_r"}, "mark": {"type": "line", "color": "#FF0000", "strokeWidth": 5, "clip": true, "strokeJoin": "round"},
    "encoding": {"x": {"field": "t", "type": "quantitative", "axis": {"orient": "top", "values": [5,5.301,5.477,5.602,5.699,5.778,5.845,5.903,5.954,6,6.301,6.477,6.602,6.699,6.778,6.845,6.903,6.954,7,7.301,7.477,7.602,7.699,7.778,7.845,7.903,7.954,8,8.301,8.477,8.602,8.699,8.778,8.845,8.903,8.954,9,9.301,9.477,9.602,9.699,9.778,9.845,9.903,9.954,10], "labels": false, "title": null, "tickSize": {"condition": {"test": "abs(datum.value - round(datum.value)) < 0.001", "value": -8}, "value": -4}}},
                 "y": {"field": "r", "type": "quantitative", "axis": {"orient": "right", "values": [1,1.301,1.477,1.602,1.699,1.778,1.845,1.903,1.954,2,2.301,2.477,2.602,2.699,2.778,2.845,2.903,2.954,3,3.301,3.477,3.602,3.699,3.778,3.845,3.903,3.954,4,4.301,4.477,4.602,4.699,4.778,4.845,4.903,4.954,5], "labels": false, "title": null, "tickSize": {"condition": {"test": "abs(datum.value - round(datum.value)) < 0.001", "value": -10}, "value": -5}}}}},
   {"data": {"values": [{}]}, "mark": {"type": "text", "text": "120\u00a0\u00a0\u00a0km\u00a0\u00a0\u00a0s⁻¹", "align": "left", "baseline": "alphabetic"},
    "encoding": {"x": {"datum": 5.593, "type": "quantitative", "axis": null}, "y": {"datum": 4.45, "type": "quantitative", "axis": null}}}
  ],
  "resolve": {"axis": {"x": "independent", "y": "independent"}}
 },
 {"width": 482, "height": 481,
  "layer": [
   {"layer": [
     {"data": {"name": "D_b"}, "mark": {"type": "area", "color": "#FFA500", "clip": true},
      "encoding": {"x": {"field": "t", "type": "quantitative", "scale": {"domain": [5, 10.301], "nice": false, "zero": false}, "axis": null}, "y": {"field": "r", "type": "quantitative", "scale": {"domain": [1, 5], "nice": false, "zero": false}, "axis": null}, "y2": {"field": "r2"}}},
     {"data": {"name": "D_o"}, "mark": {"type": "line", "color": "#FFA500", "strokeWidth": 5, "clip": true, "strokeJoin": "round"},
      "encoding": {"x": {"field": "t", "type": "quantitative", "axis": {"orient": "bottom", "values": [5,5.301,5.477,5.602,5.699,5.778,5.845,5.903,5.954,6,6.301,6.477,6.602,6.699,6.778,6.845,6.903,6.954,7,7.301,7.477,7.602,7.699,7.778,7.845,7.903,7.954,8,8.301,8.477,8.602,8.699,8.778,8.845,8.903,8.954,9,9.301,9.477,9.602,9.699,9.778,9.845,9.903,9.954,10], "labels": false, "title": null, "tickSize": {"condition": {"test": "abs(datum.value - round(datum.value)) < 0.001", "value": -8}, "value": -4}}},
                   "y": {"field": "r", "type": "quantitative", "axis": {"orient": "left", "values": [1,1.301,1.477,1.602,1.699,1.778,1.845,1.903,1.954,2,2.301,2.477,2.602,2.699,2.778,2.845,2.903,2.954,3,3.301,3.477,3.602,3.699,3.778,3.845,3.903,3.954,4,4.301,4.477,4.602,4.699,4.778,4.845,4.903,4.954,5], "labels": false, "title": null, "tickSize": {"condition": {"test": "abs(datum.value - round(datum.value)) < 0.001", "value": -10}, "value": -5}}}}},
     {"data": {"name": "D_r"}, "mark": {"type": "line", "color": "#FF0000", "strokeWidth": 5, "clip": true, "strokeJoin": "round"},
      "encoding": {"x": {"field": "t", "type": "quantitative", "axis": {"orient": "top", "values": [5,5.301,5.477,5.602,5.699,5.778,5.845,5.903,5.954,6,6.301,6.477,6.602,6.699,6.778,6.845,6.903,6.954,7,7.301,7.477,7.602,7.699,7.778,7.845,7.903,7.954,8,8.301,8.477,8.602,8.699,8.778,8.845,8.903,8.954,9,9.301,9.477,9.602,9.699,9.778,9.845,9.903,9.954,10], "labels": false, "title": null, "tickSize": {"condition": {"test": "abs(datum.value - round(datum.value)) < 0.001", "value": -8}, "value": -4}}},
                   "y": {"field": "r", "type": "quantitative", "axis": {"orient": "right", "values": [1,1.301,1.477,1.602,1.699,1.778,1.845,1.903,1.954,2,2.301,2.477,2.602,2.699,2.778,2.845,2.903,2.954,3,3.301,3.477,3.602,3.699,3.778,3.845,3.903,3.954,4,4.301,4.477,4.602,4.699,4.778,4.845,4.903,4.954,5], "labels": false, "title": null, "tickSize": {"condition": {"test": "abs(datum.value - round(datum.value)) < 0.001", "value": -10}, "value": -5}}}}}
    ],
    "resolve": {"axis": {"x": "independent", "y": "independent"}}},
   {"layer": [
     {"data": {"values": [{}]}, "mark": {"type": "rect", "filled": false, "color": "#000", "strokeWidth": 1.2},
      "encoding": {"x": {"datum": 0, "type": "quantitative", "axis": null}, "x2": {"datum": 844}, "y": {"datum": 0, "type": "quantitative", "axis": null}, "y2": {"datum": 237}}},
     {"data": {"name": "D_io"}, "mark": {"type": "line", "color": "#FFA500", "strokeWidth": 4, "strokeJoin": "round"},
      "encoding": {"x": {"field": "t", "type": "quantitative", "scale": {"domain": [-68, 1379.5], "nice": false, "zero": false}, "axis": null}, "y": {"field": "r", "type": "quantitative", "scale": {"domain": [-1159, 284], "nice": false, "zero": false}, "axis": null}}},
     {"data": {"name": "D_ir"}, "mark": {"type": "line", "color": "#FF0000", "strokeWidth": 4, "strokeJoin": "round"},
      "encoding": {"x": {"field": "t", "type": "quantitative", "axis": null}, "y": {"field": "r", "type": "quantitative", "axis": null}}}
    ]}
  ],
  "resolve": {"scale": {"x": "independent", "y": "independent"}}
 },
 {"width": 482, "height": 481,
  "layer": [
   {"data": {"name": "E_f"}, "mark": {"type": "area", "color": "#FFA500", "clip": true},
    "encoding": {"x": {"field": "t", "type": "quantitative", "scale": {"domain": [5, 10.301], "nice": false, "zero": false}, "axis": null}, "y": {"field": "r", "type": "quantitative", "scale": {"domain": [1, 5], "nice": false, "zero": false}, "axis": null}, "y2": {"datum": 1}}},
   {"data": {"name": "E_o"}, "mark": {"type": "line", "color": "#FFA500", "strokeWidth": 5, "clip": true, "strokeJoin": "round"},
    "encoding": {"x": {"field": "t", "type": "quantitative", "axis": {"orient": "bottom", "values": [5,5.301,5.477,5.602,5.699,5.778,5.845,5.903,5.954,6,6.301,6.477,6.602,6.699,6.778,6.845,6.903,6.954,7,7.301,7.477,7.602,7.699,7.778,7.845,7.903,7.954,8,8.301,8.477,8.602,8.699,8.778,8.845,8.903,8.954,9,9.301,9.477,9.602,9.699,9.778,9.845,9.903,9.954,10], "labelExpr": "datum.value == 6 ? '10⁶' : datum.value == 7 ? '10⁷' : datum.value == 8 ? '10⁸' : datum.value == 9 ? '10⁹' : datum.value == 10 ? '10¹⁰' : ''", "labelFlush": false, "labelPadding": 25, "title": "Log Time [yr]", "titlePadding": 14, "tickSize": {"condition": {"test": "abs(datum.value - round(datum.value)) < 0.001", "value": -8}, "value": -4}}},
                 "y": {"field": "r", "type": "quantitative", "axis": {"orient": "left", "values": [1,1.301,1.477,1.602,1.699,1.778,1.845,1.903,1.954,2,2.301,2.477,2.602,2.699,2.778,2.845,2.903,2.954,3,3.301,3.477,3.602,3.699,3.778,3.845,3.903,3.954,4,4.301,4.477,4.602,4.699,4.778,4.845,4.903,4.954,5], "labelExpr": "datum.value == 2 ? '10²' : datum.value == 3 ? '10³' : datum.value == 4 ? '10⁴' : datum.value == 5 ? '10⁵' : ''", "labelFlush": true, "labelPadding": 22, "title": "R [pc]", "titlePadding": 13, "minExtent": 78, "maxExtent": 78, "tickSize": {"condition": {"test": "abs(datum.value - round(datum.value)) < 0.001", "value": -10}, "value": -5}}}}},
   {"data": {"name": "E_r"}, "mark": {"type": "line", "color": "#FF0000", "strokeWidth": 5, "clip": true, "strokeJoin": "round"},
    "encoding": {"x": {"field": "t", "type": "quantitative", "axis": {"orient": "top", "values": [5,5.301,5.477,5.602,5.699,5.778,5.845,5.903,5.954,6,6.301,6.477,6.602,6.699,6.778,6.845,6.903,6.954,7,7.301,7.477,7.602,7.699,7.778,7.845,7.903,7.954,8,8.301,8.477,8.602,8.699,8.778,8.845,8.903,8.954,9,9.301,9.477,9.602,9.699,9.778,9.845,9.903,9.954,10], "labels": false, "title": null, "tickSize": {"condition": {"test": "abs(datum.value - round(datum.value)) < 0.001", "value": -8}, "value": -4}}},
                 "y": {"field": "r", "type": "quantitative", "axis": {"orient": "right", "values": [1,1.301,1.477,1.602,1.699,1.778,1.845,1.903,1.954,2,2.301,2.477,2.602,2.699,2.778,2.845,2.903,2.954,3,3.301,3.477,3.602,3.699,3.778,3.845,3.903,3.954,4,4.301,4.477,4.602,4.699,4.778,4.845,4.903,4.954,5], "labels": false, "title": null, "tickSize": {"condition": {"test": "abs(datum.value - round(datum.value)) < 0.001", "value": -10}, "value": -5}}}}},
   {"data": {"values": [{}]}, "mark": {"type": "text", "text": "200\u00a0\u00a0\u00a0km\u00a0\u00a0\u00a0s⁻¹", "align": "left", "baseline": "alphabetic"},
    "encoding": {"x": {"datum": 5.571, "type": "quantitative", "axis": null}, "y": {"datum": 4.45, "type": "quantitative", "axis": null}}}
  ],
  "resolve": {"axis": {"x": "independent", "y": "independent"}}
 },
 {"width": 482, "height": 481,
  "layer": [
   {"layer": [
     {"data": {"name": "F_b"}, "mark": {"type": "area", "color": "#FFA500", "clip": true},
      "encoding": {"x": {"field": "t", "type": "quantitative", "scale": {"domain": [5, 10.301], "nice": false, "zero": false}, "axis": null}, "y": {"field": "r", "type": "quantitative", "scale": {"domain": [1, 5], "nice": false, "zero": false}, "axis": null}, "y2": {"field": "r2"}}},
     {"data": {"name": "F_o"}, "mark": {"type": "line", "color": "#FFA500", "strokeWidth": 5, "clip": true, "strokeJoin": "round"},
      "encoding": {"x": {"field": "t", "type": "quantitative", "axis": {"orient": "bottom", "values": [5,5.301,5.477,5.602,5.699,5.778,5.845,5.903,5.954,6,6.301,6.477,6.602,6.699,6.778,6.845,6.903,6.954,7,7.301,7.477,7.602,7.699,7.778,7.845,7.903,7.954,8,8.301,8.477,8.602,8.699,8.778,8.845,8.903,8.954,9,9.301,9.477,9.602,9.699,9.778,9.845,9.903,9.954,10], "labelExpr": "datum.value == 6 ? '10⁶' : datum.value == 7 ? '10⁷' : datum.value == 8 ? '10⁸' : datum.value == 9 ? '10⁹' : datum.value == 10 ? '10¹⁰' : ''", "labelFlush": false, "labelPadding": 25, "title": "Log Time [yr]", "titlePadding": 14, "tickSize": {"condition": {"test": "abs(datum.value - round(datum.value)) < 0.001", "value": -8}, "value": -4}}},
                   "y": {"field": "r", "type": "quantitative", "axis": {"orient": "left", "values": [1,1.301,1.477,1.602,1.699,1.778,1.845,1.903,1.954,2,2.301,2.477,2.602,2.699,2.778,2.845,2.903,2.954,3,3.301,3.477,3.602,3.699,3.778,3.845,3.903,3.954,4,4.301,4.477,4.602,4.699,4.778,4.845,4.903,4.954,5], "labels": false, "title": null, "tickSize": {"condition": {"test": "abs(datum.value - round(datum.value)) < 0.001", "value": -10}, "value": -5}}}}},
     {"data": {"name": "F_r"}, "mark": {"type": "line", "color": "#FF0000", "strokeWidth": 5, "clip": true, "strokeJoin": "round"},
      "encoding": {"x": {"field": "t", "type": "quantitative", "axis": {"orient": "top", "values": [5,5.301,5.477,5.602,5.699,5.778,5.845,5.903,5.954,6,6.301,6.477,6.602,6.699,6.778,6.845,6.903,6.954,7,7.301,7.477,7.602,7.699,7.778,7.845,7.903,7.954,8,8.301,8.477,8.602,8.699,8.778,8.845,8.903,8.954,9,9.301,9.477,9.602,9.699,9.778,9.845,9.903,9.954,10], "labels": false, "title": null, "tickSize": {"condition": {"test": "abs(datum.value - round(datum.value)) < 0.001", "value": -8}, "value": -4}}},
                   "y": {"field": "r", "type": "quantitative", "axis": {"orient": "right", "values": [1,1.301,1.477,1.602,1.699,1.778,1.845,1.903,1.954,2,2.301,2.477,2.602,2.699,2.778,2.845,2.903,2.954,3,3.301,3.477,3.602,3.699,3.778,3.845,3.903,3.954,4,4.301,4.477,4.602,4.699,4.778,4.845,4.903,4.954,5], "labels": false, "title": null, "tickSize": {"condition": {"test": "abs(datum.value - round(datum.value)) < 0.001", "value": -10}, "value": -5}}}}}
    ],
    "resolve": {"axis": {"x": "independent", "y": "independent"}}},
   {"layer": [
     {"data": {"values": [{}]}, "mark": {"type": "rect", "filled": false, "color": "#000", "strokeWidth": 1.2},
      "encoding": {"x": {"datum": 0, "type": "quantitative", "axis": null}, "x2": {"datum": 844}, "y": {"datum": 0, "type": "quantitative", "axis": null}, "y2": {"datum": 240}}},
     {"data": {"name": "F_io"}, "mark": {"type": "line", "color": "#FFA500", "strokeWidth": 4, "strokeJoin": "round"},
      "encoding": {"x": {"field": "t", "type": "quantitative", "scale": {"domain": [-68, 1379.5], "nice": false, "zero": false}, "axis": null}, "y": {"field": "r", "type": "quantitative", "scale": {"domain": [-1154, 289], "nice": false, "zero": false}, "axis": null}}},
     {"data": {"name": "F_ir"}, "mark": {"type": "line", "color": "#FF0000", "strokeWidth": 4, "strokeJoin": "round"},
      "encoding": {"x": {"field": "t", "type": "quantitative", "axis": null}, "y": {"field": "r", "type": "quantitative", "axis": null}}}
    ]}
  ],
  "resolve": {"scale": {"x": "independent", "y": "independent"}}
 }
],
"columns": 2,
"spacing": 0,
"bounds": "flush"
}
